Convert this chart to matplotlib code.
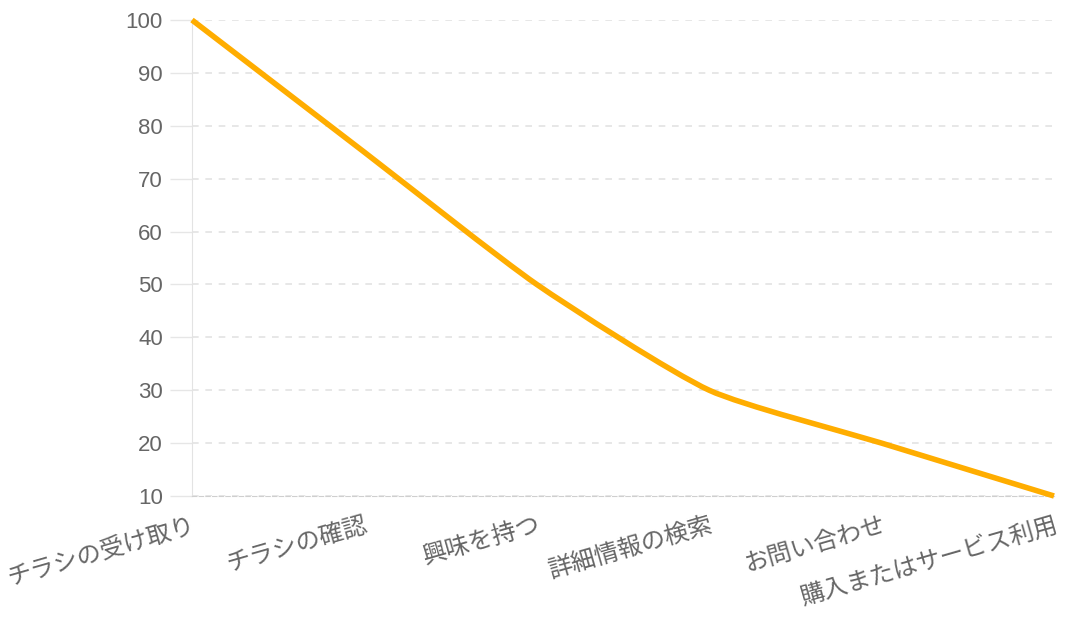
import numpy as np
import matplotlib.pyplot as plt
from matplotlib.path import Path
from matplotlib.patches import PathPatch

# ==== Daten ====
steps = ["チラシの受け取り", "チラシの確認", "興味を持つ", "詳細情報の検索", "お問い合わせ", "購入またはサービス利用"]
values = [100, 75, 50, 30, 20, 10]
y_ticks = [10, 20, 30, 40, 50, 60, 70, 80, 90, 100]

plt.rcParams['font.family'] = ['Liberation Sans', 'Noto Sans CJK JP', 'DejaVu Sans']

W, H = 1071, 620
fig = plt.figure(figsize=(W / 100, H / 100), dpi=100)
ax = fig.add_axes([192 / W, 1 - 496 / H, (1054 - 192) / W, (496 - 20) / H])

x = np.arange(len(steps), dtype=float)
y = np.array(values, dtype=float)
ax.set_xlim(0, len(steps) - 1)
ax.set_ylim(10, 100)

# ==== Glatte Linie (Spline wie Chart.js, geringe tension) ====
# Abstaende in Pixelmass rechnen
sx = 862 / (len(steps) - 1)
sy = 476 / 90
tension = 0.2
verts = [(x[0], y[0])]
codes = [Path.MOVETO]
cps = []
n = len(x)
for i in range(n):
    p = (x[max(i - 1, 0)], y[max(i - 1, 0)])
    c = (x[i], y[i])
    nx_ = (x[min(i + 1, n - 1)], y[min(i + 1, n - 1)])
    d01 = np.hypot((c[0] - p[0]) * sx, (c[1] - p[1]) * sy)
    d12 = np.hypot((nx_[0] - c[0]) * sx, (nx_[1] - c[1]) * sy)
    tot = d01 + d12
    s01 = d01 / tot if tot else 0
    s12 = d12 / tot if tot else 0
    fa, fb = tension * s01, tension * s12
    cp_prev = (c[0] - fa * (nx_[0] - p[0]), c[1] - fa * (nx_[1] - p[1]))
    cp_next = (c[0] + fb * (nx_[0] - p[0]), c[1] + fb * (nx_[1] - p[1]))
    cps.append((cp_prev, cp_next))
for i in range(1, n):
    verts += [cps[i - 1][1], cps[i][0], (x[i], y[i])]
    codes += [Path.CURVE4] * 3
ax.add_patch(PathPatch(Path(verts, codes), facecolor='none', edgecolor='#FFAD00',
                       linewidth=4.0, capstyle='butt', clip_on=False, zorder=3))

# ==== Achsen ====
ax.set_yticks(y_ticks)
ax.set_xticks(x)
ax.set_xticklabels(steps, rotation=16, rotation_mode='anchor', ha='right', va='top')
ax.tick_params(axis='y', length=16, width=1, color='#e6e6e6', pad=5, labelsize=16, labelcolor='#666666')
ax.tick_params(axis='x', length=0, pad=13, labelsize=17.5, labelcolor='#666666')
ax.grid(axis='y', color='#e3e3e3', linestyle=(0, (4, 4)), linewidth=1.2)
for s in ['top', 'right']:
    ax.spines[s].set_visible(False)
ax.spines['left'].set_color('#e3e3e3')
ax.spines['bottom'].set_color('#cfcfcf')
ax.spines['bottom'].set_linestyle((0, (4, 2)))

plt.savefig("out.png", dpi=100)
